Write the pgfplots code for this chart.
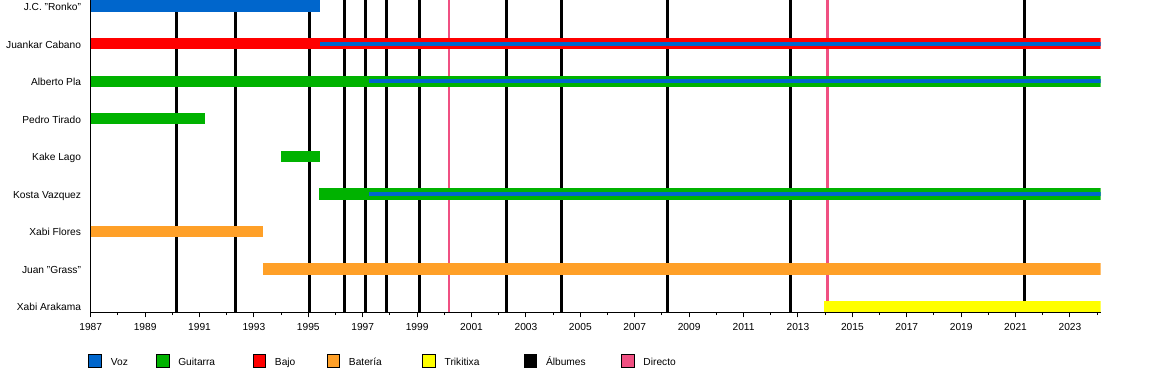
\documentclass[border=0pt]{standalone}
\usepackage{pgfplots}
\pgfplotsset{compat=1.18}
\usepackage{fontspec}
\setmainfont{Liberation Sans}
\definecolor{voz}{RGB}{0,102,204}
\definecolor{guitarra}{RGB}{0,178,0}
\definecolor{bajo}{RGB}{255,0,0}
\definecolor{bateria}{RGB}{255,160,40}
\definecolor{trikitixa}{RGB}{255,255,0}
\definecolor{albumes}{RGB}{0,0,0}
\definecolor{directo}{RGB}{240,80,130}
\begin{document}
\begin{tikzpicture}
\path[use as bounding box] (0,0) rectangle (1150bp,392bp);
\begin{axis}[
  at={(90.7bp,79.7bp)}, anchor=south west,
  scale only axis, width=1010bp, height=312.3bp,
  xmin=1987, xmax=2024.13, ymin=0.846, ymax=9.162,
  axis lines*=left,
  axis line style={line width=1bp, black},
  tick align=outside,
  xtick={1987,1989,...,2023},
  minor xtick={1988,1990,...,2024},
  major tick length=5bp, minor tick length=2.7bp,
  every tick/.style={black, line width=1bp},
  ytick={1,...,9},
  yticklabels={Xabi Arakama,Juan "Grass",Xabi Flores,Kosta Vazquez,Kake Lago,Pedro Tirado,Alberto Pla,Juankar Cabano,J.C. "Ronko"},
  ytick style={draw=none},
  /pgf/number format/1000 sep={},
  /pgf/number format/assume math mode=true,
  tick label style={font=\fontsize{10.2bp}{12bp}\selectfont},
  xticklabel style={inner sep=0pt, anchor=north, yshift=-6.3bp},
  yticklabel style={inner sep=0pt, anchor=base east, xshift=-4.5bp, yshift=-4.4bp},
  clip=true,
  legend columns=7,
  legend image code/.code={\fill[#1] (0bp,-1.3bp) rectangle (12.7bp,11.1bp);},
  legend style={draw=none, fill=none, at={(rel axis cs:0,0)}, anchor=west,
    xshift=-2.4bp, yshift=-48.2bp, inner xsep=0pt, inner ysep=0pt,
    nodes={inner sep=0pt, font=\fontsize{10.2bp}{12bp}\selectfont, anchor=base west},
    /tikz/every odd column/.append style={column sep=9.3bp},
    /tikz/every even column/.append style={column sep=0bp}},
]
% Albums (black) and live (pink) vertical lines
\addplot[forget plot, ycomb, albumes, line width=3bp, mark=none] coordinates {
 (1990.14,9.3) (1992.34,9.3) (1995.06,9.3) (1996.32,9.3) (1997.09,9.3) (1997.86,9.3)
 (1999.08,9.3) (2002.27,9.3) (2004.32,9.3) (2008.22,9.3) (2012.73,9.3) (2021.33,9.3)};
\addplot[forget plot, ycomb, directo, line width=2.5bp, mark=none] coordinates {
 (2000.17,9.3) (2014.09,9.3)};
% Bars
\addplot[forget plot, voz, line width=11.3bp, line cap=butt] coordinates {(1987,9) (1995.43,9)};
\addplot[forget plot, bajo, line width=11.3bp, line cap=butt] coordinates {(1987,8) (2024.13,8)};
\addplot[forget plot, guitarra, line width=11.3bp, line cap=butt] coordinates {(1987,7) (2024.13,7)};
\addplot[forget plot, guitarra, line width=11.3bp, line cap=butt] coordinates {(1987,6) (1991.19,6)};
\addplot[forget plot, guitarra, line width=11.3bp, line cap=butt] coordinates {(1994.0,5) (1995.43,5)};
\addplot[forget plot, guitarra, line width=11.3bp, line cap=butt] coordinates {(1995.41,4) (2024.13,4)};
\addplot[forget plot, bateria, line width=11.3bp, line cap=butt] coordinates {(1987,3) (1993.33,3)};
\addplot[forget plot, bateria, line width=11.3bp, line cap=butt] coordinates {(1993.33,2) (2024.13,2)};
\addplot[forget plot, trikitixa, line width=11.3bp, line cap=butt] coordinates {(2013.97,1) (2024.13,1)};
% Secondary role (voz) thin lines
\addplot[forget plot, voz, line width=4bp, line cap=butt] coordinates {(1995.43,8) (2024.13,8)};
\addplot[forget plot, voz, line width=4bp, line cap=butt] coordinates {(1997.24,7) (2024.13,7)};
\addplot[forget plot, voz, line width=4bp, line cap=butt] coordinates {(1997.24,4) (2024.13,4)};
% Legend
\addlegendimage{fill=voz}
\addlegendentry{\makebox[45bp][l]{Voz}}
\addlegendimage{fill=guitarra}
\addlegendentry{\makebox[74.3bp][l]{Guitarra}}
\addlegendimage{fill=bajo}
\addlegendentry{\makebox[51.6bp][l]{Bajo}}
\addlegendimage{fill=bateria}
\addlegendentry{\makebox[73.3bp][l]{Batería}}
\addlegendimage{fill=trikitixa}
\addlegendentry{\makebox[79bp][l]{Trikitixa}}
\addlegendimage{fill=albumes}
\addlegendentry{\makebox[75bp][l]{Álbumes}}
\addlegendimage{fill=directo}
\addlegendentry{Directo}
\end{axis}
\end{tikzpicture}
\end{document}
